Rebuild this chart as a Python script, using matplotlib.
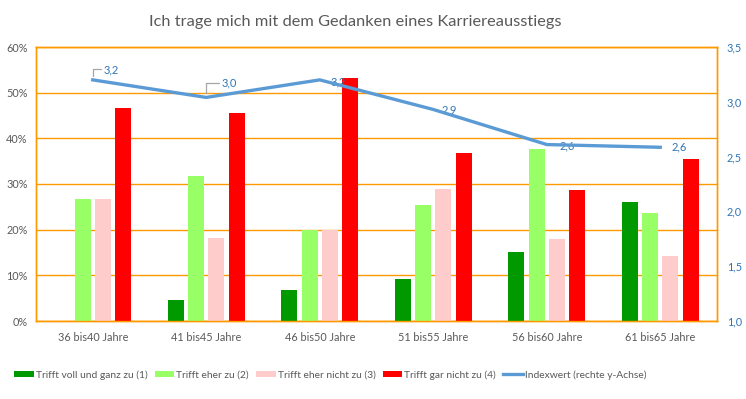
import matplotlib
matplotlib.use("Agg")
import matplotlib.pyplot as plt
import numpy as np
from matplotlib.ticker import FuncFormatter

plt.rcParams['font.family'] = ['Lato', 'DejaVu Sans']

categories = ["36 bis40 Jahre", "41 bis45 Jahre", "46 bis50 Jahre",
              "51 bis55 Jahre", "56 bis60 Jahre", "61 bis65 Jahre"]
series_names = ["Trifft voll und ganz zu (1)", "Trifft eher zu (2)",
                "Trifft eher nicht zu (3)", "Trifft gar nicht zu (4)"]
voll = [0.0, 4.5, 6.7, 9.1, 15.1, 26.1]
eher = [26.7, 31.8, 20.0, 25.3, 37.7, 23.7]
eher_nicht = [26.7, 18.2, 20.0, 28.9, 18.0, 14.2]
gar_nicht = [46.7, 45.5, 53.3, 36.7, 28.7, 35.5]
index_values = [3.20, 3.04, 3.20, 2.93, 2.61, 2.585]
index_labels = ["3,2", "3,0", "3,2", "2,9", "2,6", "2,6"]
line_name = "Indexwert (rechte y-Achse)"
title = "Ich trage mich mit dem Gedanken eines Karriereausstiegs"

colors = ["#009900", "#99FF66", "#FFCCCC", "#FF0000"]
line_color = "#5B9BD5"
grid_color = "#FF9900"
label_blue = "#2E75B6"
gray = "#595959"

W, H = 746, 399
fig = plt.figure(figsize=(W / 100, H / 100), dpi=100)
ax = fig.add_axes([36 / W, 1 - 321 / H, (717 - 36) / W, (321 - 47) / H])

x = np.arange(len(categories))
step = 0.179
width = 0.141
all_series = [voll, eher, eher_nicht, gar_nicht]
handles = []
for i, (vals, c, name) in enumerate(zip(all_series, colors, series_names)):
    b = ax.bar(x + (i - 1.5) * step, vals, width=width, color=c, label=name, zorder=3)
    handles.append(b)

ax.set_xlim(-0.5, len(categories) - 0.5)
ax.set_ylim(0, 60)
ax.set_yticks(np.arange(0, 61, 10))
ax.yaxis.set_major_formatter(FuncFormatter(lambda v, p: f"{int(v)}%"))
ax.set_xticks(x)
ax.set_xticklabels(categories)
ax.grid(axis='y', color=grid_color, linewidth=1.0, zorder=0)
ax.set_axisbelow(True)
for s in ax.spines.values():
    s.set_color(grid_color)
    s.set_linewidth(1.0)
ax.tick_params(axis='both', length=0, labelsize=7.8, colors=gray)
ax.tick_params(axis='x', pad=8)
ax.tick_params(axis='y', pad=6)

ax2 = ax.twinx()
ax2.set_ylim(1.0, 3.5)
ax2.set_yticks(np.arange(1.0, 3.51, 0.5))
ax2.yaxis.set_major_formatter(FuncFormatter(lambda v, p: f"{v:.1f}".replace('.', ',')))
ax2.tick_params(axis='y', length=0, labelsize=7.8, colors=label_blue, pad=7)
for s in ax2.spines.values():
    s.set_color(grid_color)
    s.set_linewidth(1.0)
(ln,) = ax2.plot(x, index_values, color=line_color, linewidth=2.4, label=line_name,
                 zorder=5, solid_joinstyle='miter')

# data labels (offsets in points)
offsets = [(8, 7.5), (11, 10.5), (8, -1.5), (6, 0), (9, -0.7), (8, 0)]
for i, (v, lab, (dx, dy)) in enumerate(zip(index_values, index_labels, offsets)):
    if i < 2:
        ax2.annotate(lab, xy=(x[i], v), xytext=(dx, dy), textcoords='offset points',
                     ha='left', va='center', fontsize=8, color=label_blue,
                     arrowprops=dict(arrowstyle='-', color='#A6A6A6', lw=0.9,
                                     shrinkA=0, shrinkB=3,
                                     connectionstyle='angle,angleA=0,angleB=90,rad=0'))
    else:
        ax2.annotate(lab, xy=(x[i], v), xytext=(dx, dy), textcoords='offset points',
                     ha='left', va='center', fontsize=8, color=label_blue)

fig.text(355 / W, 1 - 22 / H, title, ha='center', va='center', fontsize=11.8, color=gray)

leg = fig.legend(handles + [ln], series_names + [line_name], loc='center left',
                 bbox_to_anchor=(5 / W, 1 - 375 / H), ncol=5, frameon=False,
                 fontsize=7.4, handlelength=1.9, handleheight=0.6, handletextpad=0.2,
                 columnspacing=0.7, labelcolor=gray)

fig.savefig("out.png", dpi=100)
